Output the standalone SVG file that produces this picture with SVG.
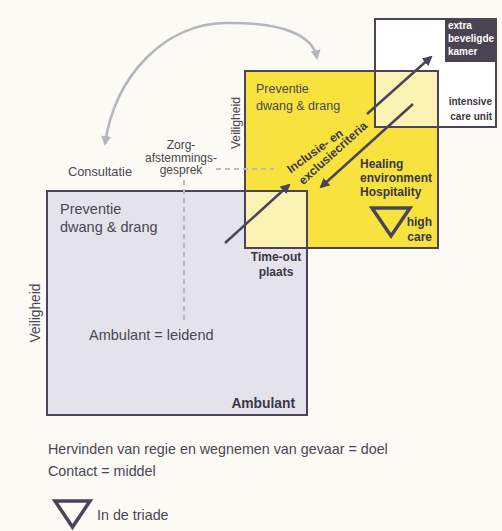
<svg xmlns="http://www.w3.org/2000/svg" width="502" height="531" viewBox="0 0 502 531">
<defs>
<style>
.t{font-family:"Liberation Sans",Arial,sans-serif;fill:#4a4752}
.b{font-family:"Liberation Sans",Arial,sans-serif;font-weight:bold;fill:#3b3646}
.box{fill:none;stroke:#4b4459;stroke-width:2}
.arr{stroke:#4b4459;stroke-width:2.5;fill:none;marker-end:url(#ah)}
.dash{stroke:#b9b9c1;stroke-width:2;stroke-dasharray:5 4;fill:none}
</style>
<marker id="ah" viewBox="0 0 10 10" refX="8" refY="5" markerWidth="4" markerHeight="4" orient="auto" markerUnits="strokeWidth">
<path d="M0,0 L10,5 L0,10 Z" fill="#4b4459"/>
</marker>
<marker id="gh" viewBox="0 0 10 10" refX="8" refY="5" markerWidth="4" markerHeight="4" orient="auto-start-reverse" markerUnits="strokeWidth">
<path d="M0,0 L10,5 L0,10 Z" fill="#b5b5bd"/>
</marker>
</defs>
<rect x="0" y="0" width="502" height="531" fill="#fbfaf4"/>

<!-- fills -->
<rect x="47" y="191" width="260" height="224" fill="#e4e3eb"/>
<rect x="245" y="71" width="193" height="177" fill="#f8e33e"/>
<rect x="375" y="19" width="121" height="108" fill="#ffffff"/>
<rect x="245" y="191" width="62" height="57" fill="#fbf3b4"/>
<rect x="375" y="71" width="63" height="56" fill="#fbf3b4"/>

<g id="ambulant">
<rect class="box" x="47" y="191" width="260" height="224"/>
<text class="t" x="60" y="214" font-size="14.5">Preventie</text>
<text class="t" x="60" y="232" font-size="14.5">dwang &amp; drang</text>
<text class="t" x="89" y="340" font-size="14.5">Ambulant = leidend</text>
<text class="b" x="295" y="408" font-size="13.8" text-anchor="end">Ambulant</text>
<text class="t" x="40" y="313" font-size="13.8" text-anchor="middle" transform="rotate(-90 40 313)">Veiligheid</text>
</g>

<g id="high-care">
<rect class="box" x="245" y="71" width="193" height="177"/>
<text class="t" x="256" y="93" font-size="12.5">Preventie</text>
<text class="t" x="256" y="110" font-size="12.5">dwang &amp; drang</text>
<text class="b" x="360" y="168" font-size="12">Healing</text>
<text class="b" x="360" y="182" font-size="12">environment</text>
<text class="b" x="360" y="196" font-size="12">Hospitality</text>
<path d="M372,208 L410,208 L391,236 Z" fill="none" stroke="#4b4459" stroke-width="3.5" stroke-linejoin="miter"/>
<text class="b" x="432" y="226" font-size="12" text-anchor="end">high</text>
<text class="b" x="432" y="241" font-size="12" text-anchor="end">care</text>
<text class="t" x="240" y="123" font-size="12.2" text-anchor="middle" transform="rotate(-90 240 123)">Veiligheid</text>
</g>

<g id="icu">
<rect class="box" x="375" y="19" width="121" height="108"/>
<rect x="445" y="19" width="51" height="43" fill="#4a4352"/>
<text x="448" y="29" font-size="10" font-family="Liberation Sans,Arial,sans-serif" font-weight="bold" fill="#ffffff">extra</text>
<text x="448" y="42" font-size="10" font-family="Liberation Sans,Arial,sans-serif" font-weight="bold" fill="#ffffff">beveligde</text>
<text x="448" y="55" font-size="10" font-family="Liberation Sans,Arial,sans-serif" font-weight="bold" fill="#ffffff">kamer</text>
<text class="b" x="492" y="105" font-size="10" text-anchor="end">intensive</text>
<text class="b" x="492" y="120" font-size="10" text-anchor="end">care unit</text>
</g>

<g id="time-out">
<text class="b" x="276" y="261" font-size="12" text-anchor="middle">Time-out</text>
<text class="b" x="276" y="276" font-size="12" text-anchor="middle">plaats</text>
</g>

<g id="criteria">
<text class="b" x="0" y="4" font-size="12" text-anchor="middle" transform="translate(315 151) rotate(-36)">Inclusie- en</text>
<text class="b" x="0" y="4" font-size="12" text-anchor="middle" transform="translate(333 153) rotate(-42)">exclusiecriteria</text>
</g>

<g id="labels">
<text class="t" x="100" y="176" font-size="12.8" text-anchor="middle">Consultatie</text>
<text class="t" x="181" y="149" font-size="12" text-anchor="middle">Zorg-</text>
<text class="t" x="181" y="161.5" font-size="12" text-anchor="middle">afstemmings-</text>
<text class="t" x="181" y="174" font-size="12" text-anchor="middle">gesprek</text>
</g>

<g id="connectors">
<path class="dash" d="M216,169 L274,169"/>
<path class="dash" d="M184,180 L184,324"/>
<path d="M105,144 C115,75 165,24 225,23 C282,22 313,35 317,58" fill="none" stroke="#b5b5bd" stroke-width="2.5" marker-start="url(#gh)" marker-end="url(#gh)"/>
<path class="arr" d="M225,243 L289,185"/>
<path class="arr" d="M367,114 L431,57"/>
<path class="arr" d="M413,104 L321,187"/>
</g>

<g id="legend">
<text class="t" x="48" y="454" font-size="14.3">Hervinden van regie en wegnemen van gevaar = doel</text>
<text class="t" x="48" y="476" font-size="14.3">Contact = middel</text>
<path d="M55,501 L90,501 L72.5,527 Z" fill="none" stroke="#4b4459" stroke-width="3.5"/>
<text class="t" x="97" y="520" font-size="14.3">In de triade</text>
</g>
</svg>
